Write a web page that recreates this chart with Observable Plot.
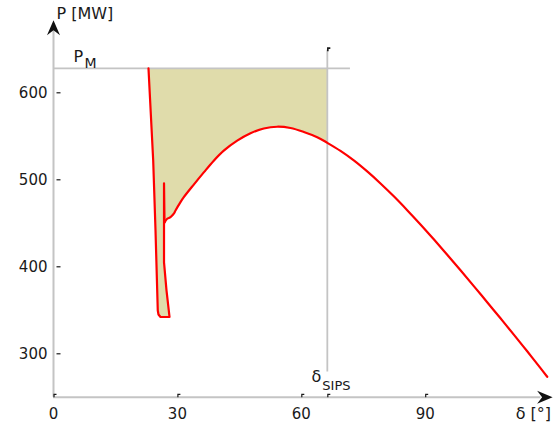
<!DOCTYPE html>
<html>
<head>
<meta charset="utf-8">
<script src="https://cdn.jsdelivr.net/npm/d3@7"></script>
<script src="https://cdn.jsdelivr.net/npm/@observablehq/plot@0.6"></script>
<style>
  html, body { margin: 0; padding: 0; background: #fff; }
</style>
</head>
<body>
<div id="chart"></div>
<script>
// Trajectory of the machine in the P–δ plane (δ in degrees, P in MW)
const delta = [23.0, 24.14, 24.70, 25.25, 25.42, 25.91, 28.09, 27.36, 26.76, 26.76, 26.76, 26.88, 27.53, 28.33, 29.13, 29.54, 30.75, 31.55, 33.97, 36.39, 38.81, 41.23, 44.48, 47.70, 50.92, 54.16, 57.38, 60.61, 63.85, 66.3, 69.49, 72.71, 75.96, 79.18, 82.40, 85.64, 88.86, 92.08, 95.33, 98.55, 101.77, 105.01, 108.23, 111.45, 114.70, 117.92, 119.54];
const power = [628, 522.2, 441.7, 349.8, 345.2, 342.3, 342.3, 372.8, 405, 441.7, 496, 450.9, 455.2, 457, 461, 464.7, 474.3, 480.0, 494.5, 508.5, 522, 533.5, 545, 553.5, 559, 561, 559.5, 555, 549, 542.5, 533.2, 522.3, 509.6, 495.8, 481.0, 465.1, 448.7, 431.6, 413.9, 396.0, 377.8, 359.3, 340.8, 322.1, 302.9, 283.6, 273.6];
// index where the swing loop ends and the smooth power-angle branch starts
const loopEnd = 11;

// Mechanical power level and SIPS activation angle
const PM = 628;
const deltaSIPS = 66.3;

// Axes
const xTicks = [0, 30, 60, 90];
const yTicks = [300, 400, 500, 600];
const xDomain = [0, 120];
const yDomain = [250, 680];
const xArrowEnd = 118;
const yArrowEnd = 676;
const pmLineEnd = 71.9;
const sipsLine = [279, 649];

const traj = delta.map((d, i) => ({d, p: power[i]}));
const iS = delta.findIndex(d => d >= deltaSIPS);
const fillPts = traj.slice(0, iS + 1).concat([{d: deltaSIPS, p: PM}]);

const arrowUp = {draw(ctx) { ctx.moveTo(0, -3); ctx.lineTo(6.5, 12); ctx.lineTo(0, 7); ctx.lineTo(-6.5, 12); ctx.closePath(); }};
const arrowRight = {draw(ctx) { ctx.moveTo(3.5, 0); ctx.lineTo(-12, -6.5); ctx.lineTo(-7, 0); ctx.lineTo(-12, 6.5); ctx.closePath(); }};
const xTickSym = {draw(ctx) { ctx.moveTo(0.5, 0); ctx.lineTo(0.5, -3); ctx.lineTo(3, -3); }};
const yTickSym = {draw(ctx) { ctx.moveTo(3, 0); ctx.lineTo(7, 0); }};

const axisGray = "#c4c4c4";
const ink = "#1a1a1a";

const chart = Plot.plot({
  width: 554,
  height: 426,
  marginLeft: 53,
  marginRight: 5.4,
  marginTop: 22.7,
  marginBottom: 29.2,
  x: {domain: xDomain, axis: null},
  y: {domain: yDomain, axis: null},
  style: {fontFamily: "'DejaVu Sans', sans-serif", fontSize: "15px", color: ink, background: "#fff"},
  marks: [
    // shaded area between P_M and the trajectory up to δ_SIPS
    Plot.line(fillPts, {x: "d", y: "p", fill: "#e0dcab", stroke: "none"}),
    // P_M line
    Plot.ruleY([PM], {x1: xDomain[0], x2: pmLineEnd, stroke: axisGray, strokeWidth: 1.8}),
    // δ_SIPS line
    Plot.ruleX([deltaSIPS], {y1: sipsLine[0], y2: sipsLine[1], stroke: axisGray, strokeWidth: 1.8}),
    // axes
    Plot.ruleX([xDomain[0]], {y1: yDomain[0], y2: yArrowEnd, stroke: axisGray, strokeWidth: 2}),
    Plot.ruleY([yDomain[0]], {x1: xDomain[0], x2: xArrowEnd, stroke: axisGray, strokeWidth: 2}),
    Plot.dot([0], {x: xDomain[0], y: yDomain[1], symbol: arrowUp, fill: "#111", stroke: "none"}),
    Plot.dot([0], {x: xDomain[1], y: yDomain[0], symbol: arrowRight, fill: "#111", stroke: "none"}),
    // tick marks
    Plot.dot(xTicks.concat([deltaSIPS]), {x: d => d, y: yDomain[0], symbol: xTickSym, fill: "none", stroke: ink, strokeWidth: 1.2}),
    Plot.dot([deltaSIPS], {x: d => d, y: sipsLine[1], dy: 1, symbol: xTickSym, fill: "none", stroke: ink, strokeWidth: 1.6}),
    Plot.dot(yTicks, {x: xDomain[0], y: d => d, symbol: yTickSym, fill: "none", stroke: ink, strokeWidth: 1.2}),
    // tick labels
    Plot.text(yTicks, {x: xDomain[0], y: d => d, text: d => String(d), textAnchor: "end", dx: -6, fontSize: 15, fill: ink}),
    Plot.text(xTicks, {x: d => d, y: yDomain[0], text: d => String(d), dy: 17, fontSize: 15, fill: ink}),
    // trajectory: swing loop (sharp) and power-angle branch (smooth)
    Plot.line(traj.slice(0, loopEnd + 1), {x: "d", y: "p", stroke: "#ff0000", strokeWidth: 2.2, strokeLinejoin: "round"}),
    Plot.line(traj.slice(loopEnd), {x: "d", y: "p", curve: "catmull-rom", stroke: "#ff0000", strokeWidth: 2.2, strokeLinejoin: "round"}),
    // labels
    Plot.text(["P [MW]"], {x: xDomain[0], y: yDomain[1], text: d => d, textAnchor: "start", dx: 3, dy: -9, fontSize: 16, fill: ink}),
    Plot.text(["P"], {x: xDomain[0], y: PM, text: d => d, textAnchor: "start", dx: 20, dy: -12, fontSize: 16, fill: ink}),
    Plot.text(["M"], {x: xDomain[0], y: PM, text: d => d, textAnchor: "start", dx: 31, dy: -5, fontSize: 14, fill: ink}),
    Plot.text(["δ"], {x: deltaSIPS, y: yDomain[0], text: d => d, textAnchor: "middle", dx: -11, dy: -20, fontSize: 16, fill: ink}),
    Plot.text(["SIPS"], {x: deltaSIPS, y: yDomain[0], text: d => d, textAnchor: "start", dx: -5, dy: -11, fontSize: 13, fill: ink}),
    Plot.text(["δ [°]"], {x: xDomain[1], y: yDomain[0], text: d => d, textAnchor: "end", dx: 2, dy: 17, fontSize: 16, fill: ink})
  ]
});
document.getElementById("chart").appendChild(chart);
</script>
</body>
</html>
